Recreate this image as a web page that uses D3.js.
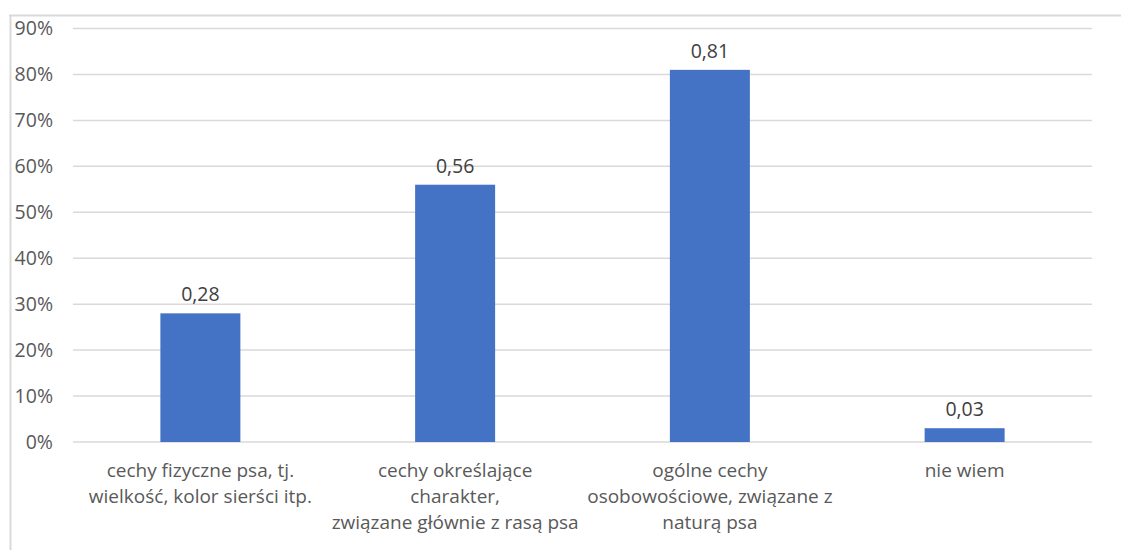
<!DOCTYPE html>
<html>
<head>
<meta charset="utf-8">
<script src="https://cdn.jsdelivr.net/npm/d3@7"></script>
<style>
  html, body { margin: 0; padding: 0; background: #fff; }
  svg { display: block; }
  text { font-family: "Open Sans", "Noto Sans", sans-serif; }
</style>
</head>
<body>
<svg id="chart" width="1121" height="550"></svg>
<script>
// Category labels (line breaks as in the axis), shares and tick values
const categories = [
  "cechy fizyczne psa, tj.\nwielkość, kolor sierści itp.",
  "cechy określające\ncharakter,\nzwiązane głównie z rasą psa",
  "ogólne cechy\nosobowościowe, związane z\nnaturą psa",
  "nie wiem"
];
const values = [0.28, 0.56, 0.81, 0.03];
const valueLabels = ["0,28", "0,56", "0,81", "0,03"];
const yTicks = [0, 0.1, 0.2, 0.3, 0.4, 0.5, 0.6, 0.7, 0.8, 0.9];

const W = 1121, H = 550;
const plot = { left: 73, right: 1092, top: 28.5, bottom: 442 };

const svg = d3.select("#chart");

// Frame lines (top and left edges of the chart area)
svg.append("line")
  .attr("x1", 9).attr("x2", W).attr("y1", 15.5).attr("y2", 15.5)
  .attr("stroke", "#d9d9d9").attr("stroke-width", 2);
svg.append("line")
  .attr("x1", 10.5).attr("x2", 10.5).attr("y1", 15).attr("y2", H)
  .attr("stroke", "#d9d9d9").attr("stroke-width", 2);

const x = d3.scaleBand()
  .domain(categories)
  .range([plot.left, plot.right])
  .paddingInner(0.686)
  .paddingOuter(0.343);

const y = d3.scaleLinear()
  .domain([0, 0.9])
  .range([plot.bottom, plot.top]);

// Horizontal gridlines
svg.append("g")
  .selectAll("line")
  .data(yTicks)
  .join("line")
  .attr("x1", plot.left).attr("x2", plot.right)
  .attr("y1", d => y(d)).attr("y2", d => y(d))
  .attr("stroke", "#d9d9d9").attr("stroke-width", 1.5);

// Y axis tick labels
const yAxis = d3.axisLeft(y)
  .tickValues(yTicks)
  .tickFormat(d => Math.round(d * 100) + "%")
  .tickSize(0)
  .tickPadding(0);
const gy = svg.append("g")
  .attr("transform", `translate(53,0)`)
  .call(yAxis);
gy.select(".domain").remove();
gy.selectAll("text")
  .attr("fill", "#595959")
  .style("font-size", "19.5px")
  .style("font-family", "'Open Sans', sans-serif");

// Bars
svg.append("g")
  .selectAll("rect")
  .data(values)
  .join("rect")
  .attr("x", (d, i) => x(categories[i]))
  .attr("width", x.bandwidth())
  .attr("y", d => y(d))
  .attr("height", d => y(0) - y(d))
  .attr("fill", "#4472C4");

// Value labels above bars
svg.append("g")
  .selectAll("text")
  .data(values)
  .join("text")
  .attr("x", (d, i) => x(categories[i]) + x.bandwidth() / 2)
  .attr("y", d => y(d) - 12)
  .attr("text-anchor", "middle")
  .attr("fill", "#404040")
  .style("font-size", "19.5px")
  .text((d, i) => valueLabels[i]);

// Category labels under the axis
const xAxis = d3.axisBottom(x).tickSize(0).tickPadding(0).tickFormat("");
const gx = svg.append("g")
  .attr("transform", `translate(0,${plot.bottom})`)
  .call(xAxis);
gx.select(".domain").remove();
gx.selectAll(".tick").each(function(d) {
  const t = d3.select(this).append("text")
    .attr("text-anchor", "middle")
    .attr("fill", "#595959")
    .style("font-size", "19px");
  d.split("\n").forEach((line, k) => {
    t.append("tspan")
      .attr("x", 0)
      .attr("y", 35 + k * 26)
      .text(line);
  });
});
</script>
</body>
</html>
